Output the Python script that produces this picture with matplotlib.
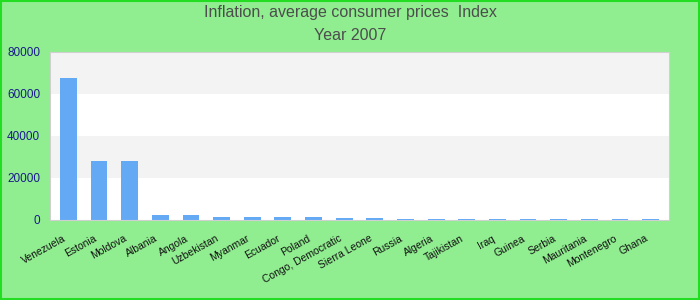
import matplotlib
matplotlib.use('Agg')
import matplotlib.pyplot as plt
import matplotlib.transforms as mtransforms

countries = ['Venezuela', 'Estonia', 'Moldova', 'Albania', 'Angola', 'Uzbekistan',
             'Myanmar', 'Ecuador', 'Poland', 'Congo, Democratic', 'Sierra Leone',
             'Russia', 'Algeria', 'Tajikistan', 'Iraq', 'Guinea', 'Serbia',
             'Mauritania', 'Montenegro', 'Ghana']
index_2007 = [67400, 28000, 28000, 2400, 2400, 1400, 1400, 1400, 1400, 1000, 1000,
              500, 500, 500, 500, 500, 500, 500, 500, 500]
y_ticks = [0, 20000, 40000, 60000, 80000]

plt.rcParams['font.family'] = ['Liberation Sans', 'DejaVu Sans']

fig = plt.figure(figsize=(7, 3), dpi=100, facecolor='#90ee90')
ax = fig.add_axes([50 / 700, 1 - 220 / 300, 619 / 700, 168.5 / 300])

# alternating background bands
for i in range(len(y_ticks) - 1):
    ax.axhspan(y_ticks[i], y_ticks[i + 1],
               color='white' if i % 2 == 0 else '#f3f3f3', zorder=0, lw=0)

x = range(len(countries))
ax.bar(x, index_2007, width=0.55, color='#63a9f4', zorder=2)

ax.set_xlim(-0.6, len(countries) - 0.4)
ax.set_ylim(0, 80000)
ax.set_yticks(y_ticks)
ax.set_yticklabels([str(v) for v in y_ticks], color='#1a1a8c', fontsize=8.5)
ax.set_xticks(list(x))
ax.set_xticklabels(countries, rotation=29, ha='right', rotation_mode='anchor',
                   fontsize=7.5, color='#111111')
ax.tick_params(length=0, pad=6)
ax.tick_params(axis='y', pad=7)
for s in ax.spines.values():
    s.set_color('#d0d0d0')

# nudge rotated labels down-left like the original
shift = mtransforms.ScaledTranslation(-6 / 100, -5 / 100, fig.dpi_scale_trans)
for lbl in ax.get_xticklabels():
    lbl.set_transform(lbl.get_transform() + shift)

fig.text(0.5, 1 - 13 / 300, 'Inflation, average consumer prices  Index',
         ha='center', va='center', fontsize=11.5, color='#4d4d4d')
fig.text(0.5, 1 - 36 / 300, 'Year 2007',
         ha='center', va='center', fontsize=11.5, color='#4d4d4d')

# outer border
border = plt.Rectangle((0.001, 0.002), 0.997, 0.995, transform=fig.transFigure,
                       fill=False, edgecolor='#22dd22', lw=1.5)
fig.patches.append(border)

fig.savefig('out.png', dpi=100, facecolor=fig.get_facecolor())
